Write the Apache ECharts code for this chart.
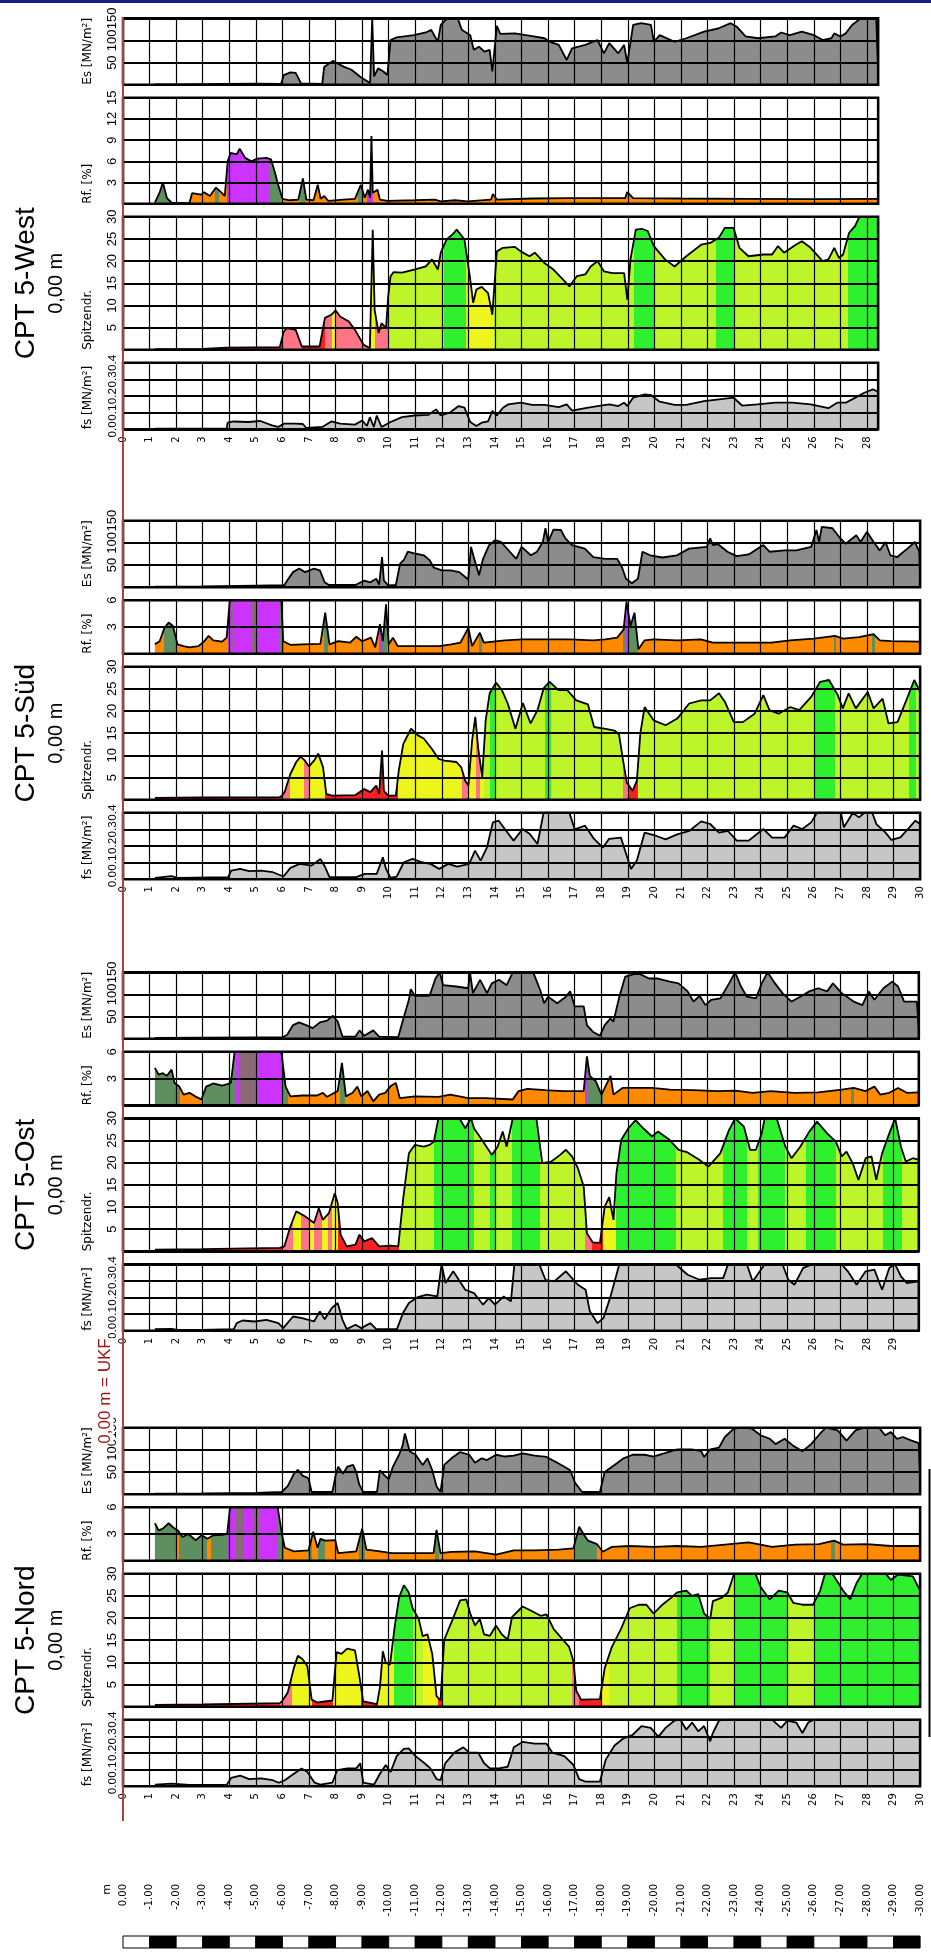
<!DOCTYPE html>
<html>
<head>
<meta charset="utf-8">
<script src="https://cdn.jsdelivr.net/npm/echarts/dist/echarts.min.js"></script>
<style>
html, body { margin: 0; padding: 0; background: #fff; }
#main { width: 931px; height: 1955px; }
</style>
</head>
<body>
<div id="main"></div>
<script>
// ---- CPT 5-West ----
var westEs = [[1.2,1],[2,1],[3,1.5],[4,2],[5,2.5],[5.95,2],[6.05,22],[6.3,28],[6.5,27],[6.7,3],[7.5,2],[7.57,40],[7.9,54],[8.3,41],[8.6,34],[8.95,17],[9.3,4],[9.38,150],[9.45,19],[9.6,37],[9.8,30],[9.95,22],[10.07,101],[10.3,107],[10.95,112],[11.4,118],[11.6,124],[11.85,97],[11.96,135],[12.2,150],[12.6,150],[12.75,124],[13.07,112],[13.2,79],[13.4,86],[13.6,75],[13.8,79],[13.9,30],[14.07,133],[14.2,115],[14.75,116],[15.4,110],[15.86,105],[16.08,97],[16.4,90],[16.7,56],[16.9,82],[17.4,90],[17.86,101],[18.1,71],[18.3,94],[18.64,71],[18.86,90],[18.98,49],[19.2,135],[19.5,139],[19.87,135],[19.98,97],[20.2,112],[20.76,97],[21.2,105],[21.87,120],[22.4,127],[22.87,139],[23.1,131],[23.43,109],[23.9,105],[24.55,109],[24.77,118],[25.1,112],[25.55,120],[26,112],[26.33,101],[26.66,105],[26.77,116],[27,109],[27.2,116],[27.44,135],[27.77,150],[28.35,150],[28.42,30]];
var westRf = [[1.2,0.15],[1.38,1.6],[1.5,3.0],[1.65,0.85],[1.83,0.15],[2.5,0.1],[2.6,1.5],[2.94,1.3],[3.05,1.65],[3.27,1.1],[3.5,2.3],[3.72,1.55],[3.83,1.1],[3.94,6.0],[4.05,7.2],[4.28,7.0],[4.39,7.8],[4.6,6.5],[4.83,6.0],[5.05,6.4],[5.4,6.5],[5.57,6.3],[5.72,4.4],[5.84,2.7],[6.0,0.7],[6.28,0.5],[6.6,0.6],[6.77,3.6],[6.9,0.6],[7.17,0.5],[7.33,2.7],[7.44,0.7],[7.57,1.1],[7.73,0.4],[8.29,0.6],[8.73,0.7],[8.95,2.7],[9.1,0.85],[9.22,2.0],[9.3,0.85],[9.35,9.6],[9.4,1.55],[9.58,2.0],[9.67,0.6],[9.96,0.4],[10.96,0.5],[11.74,0.6],[11.96,0.35],[12.5,0.5],[12.96,0.35],[13.85,0.6],[13.92,1.4],[14.07,0.6],[15.4,0.75],[16.75,0.8],[18.9,0.8],[18.98,1.65],[19.2,0.8],[21,0.75],[23.5,0.7],[26,0.65],[28.42,0.7]];
var westQc = [[1.2,0.15],[3,0.2],[3.9,0.5],[5.9,0.6],[5.95,0.75],[6.05,4.1],[6.17,4.9],[6.5,4.5],[6.73,0.75],[7.4,0.75],[7.6,7.2],[7.84,7.9],[8.0,8.9],[8.17,7.5],[8.5,6.4],[8.73,4.5],[9.06,1.1],[9.29,0.4],[9.4,27.1],[9.47,9.0],[9.62,3.8],[9.73,6.0],[9.9,4.9],[9.98,12],[10.07,16.6],[10.18,17.5],[10.5,17.4],[10.96,18.1],[11.4,18.8],[11.63,20.4],[11.85,18.1],[11.96,21.9],[12.18,24.9],[12.4,26],[12.56,27.1],[12.85,24.9],[13.07,15.8],[13.18,10.6],[13.3,13.6],[13.5,14.2],[13.74,12.8],[13.9,7.9],[14.07,22.2],[14.3,23],[14.75,23.2],[14.97,22.2],[15.3,21.1],[15.5,21.9],[15.86,19.6],[16.2,18.1],[16.5,16.2],[16.8,14.3],[17.08,16.6],[17.4,17],[17.6,18.8],[17.86,20],[18.1,17.7],[18.42,17.3],[18.86,17.3],[18.98,11.3],[19.1,20.4],[19.3,27.1],[19.53,27.3],[19.75,26.8],[19.98,23.4],[20.4,20.4],[20.76,18.8],[21.2,21.1],[21.76,23.7],[22.1,24.1],[22.43,25.3],[22.65,27.5],[22.98,27.5],[23.2,23],[23.54,21.1],[24.1,21.5],[24.43,21.5],[24.65,23.4],[24.88,21.9],[25.32,23.7],[25.55,24.5],[25.88,23],[26.33,20],[26.55,20.4],[26.77,23],[26.95,20.7],[27.1,21.5],[27.33,26.4],[27.55,27.9],[27.7,29.8],[27.8,30],[28.42,30]];
var westFs = [[1.2,0.004],[3.9,0.004],[3.94,0.04],[4.16,0.047],[4.72,0.044],[5.17,0.05],[5.61,0.024],[5.84,0.014],[6.06,0.034],[6.5,0.034],[6.77,0.032],[6.9,0.008],[7.5,0.014],[7.84,0.047],[8.17,0.034],[8.73,0.028],[9.0,0.053],[9.18,0.02],[9.29,0.073],[9.44,0.014],[9.55,0.083],[9.73,0.014],[10.07,0.044],[10.5,0.073],[10.96,0.083],[11.5,0.087],[11.78,0.12],[11.96,0.083],[12.3,0.1],[12.63,0.14],[12.85,0.13],[13.07,0.044],[13.3,0.02],[13.5,0.04],[13.74,0.048],[13.9,0.11],[14.07,0.083],[14.3,0.13],[14.5,0.15],[14.97,0.16],[15.4,0.147],[15.86,0.147],[16.4,0.133],[16.7,0.15],[16.9,0.113],[17.4,0.127],[17.86,0.14],[18.3,0.15],[18.64,0.14],[18.86,0.16],[18.98,0.14],[19.2,0.19],[19.64,0.21],[19.87,0.206],[20.2,0.166],[20.76,0.147],[21.2,0.147],[21.87,0.17],[22.43,0.18],[22.98,0.19],[23.3,0.143],[23.87,0.15],[24.55,0.16],[25.2,0.16],[25.88,0.15],[26.55,0.127],[26.88,0.16],[27.2,0.16],[27.44,0.18],[27.9,0.22],[28.22,0.24],[28.42,0.226]];
var westQcZones = [[0,'r'],[6.0,'p'],[6.75,'r'],[7.6,'p'],[7.85,'y'],[8.0,'p'],[9.35,'y'],[9.5,'p'],[10.0,'l'],[12.1,'g'],[12.9,'y'],[13.95,'l'],[19.25,'g'],[20.0,'l'],[22.3,'g'],[23.0,'l'],[27.3,'g']];
var westRfZones = [[0,'m'],[1.8,'o'],[3.45,'m'],[3.6,'o'],[3.9,'v'],[5.55,'m'],[5.95,'o'],[6.65,'m'],[6.9,'o'],[8.85,'m'],[9.05,'o'],[9.2,'v'],[9.4,'o']];

// ---- CPT 5-Süd ----
var sudEs = [[1.2,1.5],[3,2],[5,3.5],[6.07,4.5],[6.18,15],[6.4,34],[6.63,42],[6.85,34],[7.19,42],[7.41,38],[7.59,11],[7.75,5],[8.75,5],[9.08,15],[9.31,11],[9.53,19],[9.64,6],[9.75,68],[9.82,15],[9.98,4],[10.27,5],[10.43,53],[10.58,62],[10.72,80],[10.98,76],[11.32,72],[11.54,61],[11.7,44],[12.0,38],[12.33,38],[12.66,34],[12.88,23],[12.99,17],[13.1,91],[13.2,68],[13.4,27],[13.55,64],[13.78,95],[14.0,106],[14.23,102],[14.56,80],[14.8,64],[15.0,91],[15.35,72],[15.58,80],[15.8,102],[15.9,133],[16.0,102],[16.2,130],[16.48,129],[16.65,110],[16.9,95],[17.38,87],[17.7,68],[18.15,64],[18.6,64],[18.78,45],[18.93,19],[19.15,9],[19.38,19],[19.55,80],[19.84,72],[20.3,67],[20.85,72],[21.3,87],[21.97,91],[22.1,110],[22.2,95],[22.4,97],[22.75,80],[23.1,70],[23.55,74],[24.1,95],[24.33,80],[24.9,83],[25.34,83],[25.9,91],[26.1,129],[26.2,102],[26.3,136],[26.7,133],[27.0,110],[27.2,98],[27.6,117],[27.76,102],[28.0,125],[28.25,102],[28.48,83],[28.7,102],[28.88,72],[29.14,68],[29.6,91],[29.8,102],[29.97,80],[30,23]];
var sudRf = [[1.2,1.05],[1.38,1.4],[1.56,2.9],[1.72,3.5],[1.88,3.1],[2.05,1.05],[2.28,0.85],[2.5,0.7],[2.84,0.85],[3.06,1.4],[3.22,2.0],[3.4,1.5],[3.73,1.35],[3.9,1.8],[4.02,6],[5.96,6],[6.03,1.4],[6.3,1.0],[6.75,1.05],[7.43,1.1],[7.61,4.6],[7.77,1.05],[8.1,1.4],[8.55,1.25],[8.78,1.9],[9.0,1.4],[9.33,1.8],[9.49,0.7],[9.67,3.3],[9.78,1.4],[9.9,5.55],[10.0,1.05],[10.16,1.8],[10.34,0.85],[11.0,0.85],[11.9,0.85],[12.35,1.05],[12.7,1.25],[13.0,2.9],[13.14,0.85],[13.43,2.35],[13.58,1.25],[14.37,1.5],[15.04,1.6],[15.93,1.6],[16.8,1.6],[17.7,1.5],[18.15,1.6],[18.6,1.8],[18.84,2.7],[18.95,5.85],[19.1,3.1],[19.25,4.6],[19.4,0.5],[19.63,1.5],[19.96,1.6],[20.85,1.5],[21.75,1.6],[22.2,1.25],[23.3,1.25],[24.4,1.25],[25.1,1.5],[26.0,1.7],[26.8,2.0],[27.1,1.7],[27.7,1.85],[28.25,2.2],[28.48,1.5],[28.9,1.4],[30,1.35]];
var sudQc = [[1.2,0.4],[3,0.5],[5.9,0.6],[5.98,0.9],[6.08,1.7],[6.3,5.8],[6.52,8.5],[6.68,9.7],[6.85,8.8],[7.0,7.5],[7.19,8.8],[7.35,10.4],[7.53,7.3],[7.65,1.3],[7.86,0.9],[8.75,1.05],[9.08,2.4],[9.31,1.7],[9.53,3.2],[9.64,1.3],[9.75,11.1],[9.82,2.0],[9.98,0.9],[10.27,0.9],[10.38,6.6],[10.55,12.6],[10.84,16],[11.1,14.5],[11.32,13.8],[11.62,11.5],[11.88,9.2],[12.1,8.8],[12.55,8.5],[12.73,7.3],[12.88,4.3],[13.0,3.2],[13.14,13.4],[13.26,18.7],[13.37,11.5],[13.52,5.1],[13.65,17.9],[13.8,24],[14.04,26.4],[14.26,24.7],[14.48,21.7],[14.77,16],[15.05,21.8],[15.34,17.2],[15.6,20.2],[15.83,25.1],[16.05,26.6],[16.39,24.7],[16.72,24.7],[17.06,22.4],[17.5,21.5],[17.73,16.4],[18.17,16],[18.5,15.6],[18.67,14.7],[18.8,9.6],[18.96,3.9],[19.18,2.0],[19.34,4.3],[19.47,14.9],[19.63,20.9],[19.97,17.9],[20.42,16.8],[20.86,18.3],[21.31,21.7],[21.76,22.4],[22.1,22.4],[22.43,24],[22.65,22.1],[22.99,17.5],[23.33,17.5],[23.77,19.4],[24.1,23.6],[24.33,20.2],[24.67,19.4],[25.12,20.9],[25.45,20.2],[25.9,23.2],[26.24,26.6],[26.57,27],[26.9,23.6],[27.09,20.6],[27.31,24],[27.58,20.6],[28.03,24.3],[28.25,20.6],[28.59,22.8],[28.81,17.2],[29.15,17.5],[29.48,22.4],[29.78,27],[30,24.3]];
var sudFs = [[1.2,0.008],[1.83,0.018],[2.05,0.008],[3.96,0.012],[4.07,0.052],[4.41,0.062],[4.75,0.048],[5.2,0.052],[5.64,0.042],[6.04,0.016],[6.3,0.068],[6.65,0.092],[7.1,0.082],[7.43,0.122],[7.61,0.072],[7.77,0.012],[8.78,0.012],[9.1,0.032],[9.55,0.032],[9.78,0.132],[9.9,0.062],[10.07,0.008],[10.3,0.016],[10.57,0.102],[10.9,0.122],[11.24,0.102],[11.57,0.092],[11.9,0.062],[12.24,0.092],[12.58,0.076],[13.03,0.092],[13.25,0.172],[13.46,0.112],[13.7,0.192],[13.92,0.342],[14.14,0.352],[14.37,0.302],[14.7,0.232],[15.04,0.302],[15.31,0.272],[15.6,0.212],[15.83,0.4],[16.8,0.4],[17.0,0.3],[17.39,0.322],[17.73,0.242],[18.06,0.19],[18.29,0.242],[18.74,0.25],[18.9,0.17],[19.12,0.062],[19.34,0.112],[19.63,0.28],[20.08,0.26],[20.42,0.24],[20.86,0.27],[21.31,0.29],[21.76,0.348],[22.1,0.332],[22.43,0.28],[22.77,0.29],[23.1,0.232],[23.55,0.232],[24.1,0.302],[24.43,0.25],[24.9,0.25],[25.23,0.322],[25.57,0.302],[25.9,0.342],[26.12,0.4],[27.02,0.4],[27.13,0.312],[27.47,0.4],[27.7,0.372],[27.9,0.4],[28.2,0.4],[28.36,0.33],[28.7,0.28],[28.92,0.236],[29.26,0.252],[29.6,0.312],[29.82,0.352],[30,0.332]];
var sudQcZones = [[0,'r'],[6.0,'p'],[6.3,'y'],[6.8,'p'],[7.0,'y'],[7.6,'r'],[10.35,'y'],[12.75,'p'],[13.0,'y'],[13.3,'p'],[13.45,'y'],[13.6,'l'],[13.8,'g'],[14.0,'l'],[15.9,'g'],[16.1,'l'],[18.8,'p'],[19.05,'r'],[19.4,'l'],[26.0,'g'],[26.8,'l'],[29.6,'g'],[29.85,'l']];
var sudRfZones = [[0,'o'],[1.55,'m'],[2.0,'o'],[3.95,'v'],[4.05,'s'],[4.15,'v'],[4.85,'s'],[5.0,'v'],[5.9,'m'],[6.05,'o'],[7.55,'m'],[7.7,'o'],[9.65,'v'],[9.75,'m'],[9.95,'o'],[12.95,'m'],[13.05,'o'],[13.4,'m'],[13.5,'o'],[18.8,'m'],[18.9,'v'],[19.0,'m'],[19.4,'o'],[26.75,'m'],[26.85,'o'],[28.2,'m'],[28.3,'o']];

// ---- CPT 5-Ost ----
var ostEs = [[1.2,2],[3,2.5],[5,3],[6.0,3],[6.18,9],[6.4,31],[6.63,37],[6.96,29],[7.14,24],[7.41,37],[7.68,41],[7.9,52],[8.08,39],[8.26,5],[8.75,5],[8.9,19],[9.08,7],[9.42,19],[9.64,5],[10.36,4],[10.54,43],[10.76,88],[10.83,112],[10.98,97],[11.54,97],[11.76,136],[11.92,150],[12.05,121],[12.54,118],[12.99,114],[13.06,150],[13.17,103],[13.44,133],[13.7,103],[13.88,125],[14.15,133],[14.44,121],[14.67,150],[15.11,148],[15.45,148],[15.7,110],[15.85,80],[16.0,95],[16.34,80],[16.67,95],[16.83,107],[17.0,73],[17.34,73],[17.46,31],[17.68,16],[17.95,7],[18.13,31],[18.35,46],[18.46,39],[18.68,95],[18.9,140],[19.24,146],[19.46,146],[19.8,136],[20.13,136],[20.58,129],[20.91,125],[21.25,107],[21.47,84],[21.7,97],[21.92,76],[22.14,88],[22.48,91],[22.81,125],[23.04,150],[23.26,118],[23.48,95],[23.82,91],[24.04,125],[24.26,150],[24.49,129],[24.82,103],[25.16,84],[25.49,95],[25.83,107],[26.16,114],[26.5,107],[26.72,125],[27.05,103],[27.5,84],[27.83,76],[28.06,107],[28.28,88],[28.62,114],[28.95,129],[29.17,118],[29.4,84],[29.73,84],[29.88,84],[29.95,20]];
var ostRf = [[1.2,4.2],[1.34,3.45],[1.5,3.6],[1.65,3.3],[1.83,4.0],[1.94,2.5],[2.12,2.1],[2.28,1.2],[2.5,1.4],[2.72,1.0],[2.95,0.65],[3.13,2.1],[3.39,2.45],[3.73,2.2],[4.06,2.5],[4.2,6],[5.96,6],[6.12,2.1],[6.3,1.0],[6.74,1.1],[7.3,1.1],[7.52,1.4],[7.68,0.95],[8.08,1.6],[8.24,4.75],[8.39,1.0],[8.64,1.4],[8.82,2.1],[8.97,1.0],[9.2,1.6],[9.42,0.45],[9.64,1.2],[9.87,1.4],[10.09,2.2],[10.27,2.5],[10.42,0.8],[10.98,1.0],[11.87,0.95],[12.32,1.2],[12.99,0.8],[13.66,0.8],[14.67,0.65],[14.89,1.6],[15.22,1.85],[15.89,1.7],[16.56,1.6],[17.34,1.6],[17.46,5.5],[17.57,3.3],[17.79,2.7],[18.01,1.2],[18.35,3.3],[18.46,1.2],[18.8,1.95],[19.91,1.95],[20.58,1.75],[21.47,1.7],[22.37,1.6],[23.04,1.65],[23.7,1.4],[24.38,1.6],[25.27,1.4],[26.16,1.45],[27.05,1.75],[27.5,1.95],[27.95,1.6],[28.28,2.1],[28.5,1.2],[28.84,1.4],[29.17,1.95],[29.5,1.4],[29.95,1.45]];
var ostQc = [[1.2,0.4],[3,0.5],[5.9,0.75],[6.07,1.1],[6.3,5.6],[6.52,9.0],[6.85,7.9],[7.19,6.4],[7.37,9.75],[7.52,7.1],[7.75,8.6],[7.97,13.1],[8.08,10.9],[8.19,3.75],[8.42,1.1],[8.75,1.5],[8.9,3.75],[9.08,2.25],[9.37,3.0],[9.64,1.1],[10.09,1.3],[10.36,1.1],[10.54,11.6],[10.76,22.1],[10.98,24],[11.32,23.6],[11.54,24],[11.7,24.75],[11.87,30],[12.66,30],[12.88,27.75],[13.1,30],[13.21,27.75],[13.55,24.75],[13.88,21.75],[14.1,23.6],[14.29,27],[14.44,23.6],[14.67,30],[15.56,30],[15.78,19.9],[16.12,20.25],[16.45,21.75],[16.67,22.9],[16.9,21.4],[17.12,18.75],[17.34,14.6],[17.46,4.1],[17.68,2.0],[17.95,1.9],[18.13,10.1],[18.3,12.2],[18.46,7.1],[18.57,17.6],[18.75,25.1],[19.02,27.75],[19.29,29.6],[19.58,27.75],[19.91,25.9],[20.13,27],[20.58,25.1],[20.91,22.9],[21.25,22.3],[21.7,20.6],[22.03,19.1],[22.48,22.1],[22.81,27.4],[23.04,30],[23.37,28.1],[23.6,22.9],[23.82,22.9],[24.04,26.6],[24.15,30],[24.6,30],[24.93,23.6],[25.16,21],[25.49,23.6],[25.83,27],[26.12,29.25],[26.5,26.6],[26.83,24.75],[27.05,21.4],[27.23,22.5],[27.46,19.9],[27.68,16.1],[27.95,21],[28.17,21.4],[28.35,16.1],[28.57,22.1],[28.84,26.6],[29.06,30],[29.28,23.6],[29.46,20.25],[29.73,21],[29.95,20.6]];
var ostFs = [[1.2,0.01],[1.83,0.012],[2.05,0.006],[2.95,0.006],[4.17,0.01],[4.28,0.046],[4.5,0.062],[4.95,0.056],[5.4,0.066],[5.85,0.046],[6.03,0.016],[6.4,0.086],[6.74,0.076],[7.19,0.056],[7.41,0.117],[7.59,0.07],[7.86,0.137],[8.08,0.167],[8.26,0.066],[8.42,0.01],[8.75,0.036],[8.97,0.016],[9.31,0.046],[9.53,0.01],[10.31,0.01],[10.54,0.107],[10.76,0.167],[11.1,0.203],[11.43,0.217],[11.83,0.207],[11.99,0.4],[12.14,0.287],[12.43,0.358],[12.88,0.247],[13.21,0.227],[13.55,0.157],[13.77,0.197],[14.0,0.157],[14.33,0.207],[14.6,0.177],[14.73,0.4],[15.67,0.4],[15.9,0.307],[16.23,0.297],[16.67,0.358],[17.12,0.277],[17.41,0.247],[17.57,0.117],[17.86,0.046],[18.08,0.076],[18.35,0.207],[18.68,0.4],[20.8,0.4],[21.25,0.337],[21.7,0.307],[22.14,0.317],[22.59,0.317],[22.77,0.4],[23.48,0.4],[23.7,0.297],[23.97,0.358],[24.15,0.4],[24.82,0.4],[25.04,0.307],[25.27,0.277],[25.6,0.378],[25.94,0.4],[27.05,0.4],[27.28,0.358],[27.61,0.277],[27.95,0.358],[28.28,0.368],[28.57,0.247],[28.84,0.378],[29.06,0.4],[29.28,0.327],[29.5,0.287],[29.95,0.297]];
var ostQcZones = [[0,'r'],[6.0,'p'],[6.4,'y'],[6.7,'p'],[7.0,'y'],[7.2,'p'],[7.5,'y'],[7.7,'p'],[7.85,'y'],[8.1,'r'],[10.4,'l'],[11.7,'g'],[13.2,'l'],[13.8,'g'],[14.0,'l'],[14.65,'g'],[15.7,'l'],[17.4,'p'],[17.65,'r'],[18.05,'y'],[18.55,'g'],[20.8,'l'],[22.6,'g'],[23.5,'l'],[23.9,'g'],[24.9,'l'],[25.7,'g'],[26.85,'l'],[28.6,'g'],[29.3,'l']];
var ostRfZones = [[0,'m'],[2.15,'o'],[3.05,'m'],[4.2,'v'],[4.35,'s'],[4.95,'v'],[5.95,'m'],[6.2,'o'],[8.15,'m'],[8.35,'o'],[17.4,'v'],[17.5,'m'],[18.05,'o'],[27.4,'m'],[27.5,'o']];

// ---- CPT 5-Nord ----
var nordEs = [[1.2,1.5],[3,2],[5,3],[5.97,5],[6.2,18],[6.43,46],[6.58,55],[6.76,42],[6.98,36],[7.1,5],[7.88,5],[8.0,42],[8.1,62],[8.28,46],[8.44,62],[8.66,66],[8.78,50],[8.89,22],[9.04,5],[9.56,5],[9.67,54],[9.85,42],[10.0,34],[10.16,62],[10.39,89],[10.52,109],[10.61,137],[10.79,97],[11.01,89],[11.28,66],[11.46,81],[11.64,54],[11.8,18],[11.95,5],[12.09,66],[12.36,81],[12.69,95],[13.03,89],[13.25,71],[13.5,81],[13.7,77],[14.04,89],[14.37,85],[14.71,87],[15.04,92],[15.49,87],[15.94,84],[16.28,73],[16.61,62],[16.83,54],[17.01,26],[17.28,5],[17.95,5],[18.13,50],[18.5,66],[18.84,81],[19.18,89],[19.63,89],[19.97,85],[20.42,93],[20.86,101],[21.4,101],[21.76,97],[21.87,84],[22.1,101],[22.43,105],[22.65,129],[22.99,148],[23.33,150],[23.66,148],[24.0,133],[24.34,125],[24.56,113],[24.9,125],[25.23,109],[25.57,97],[25.9,113],[26.24,137],[26.46,150],[26.9,144],[27.23,121],[27.57,144],[27.9,150],[28.46,150],[28.68,133],[28.9,140],[29.13,125],[29.35,129],[29.68,121],[29.95,115],[30,30]];
var nordRf = [[1.2,4.2],[1.34,3.4],[1.5,3.6],[1.72,4.2],[1.88,3.75],[2.06,3.4],[2.24,2.65],[2.46,3.0],[2.73,2.3],[2.96,2.85],[3.18,2.45],[3.4,2.85],[3.74,2.9],[3.92,3.0],[4.03,6],[5.82,6],[5.98,3.0],[6.09,1.45],[6.43,1.05],[6.98,1.15],[7.16,3.25],[7.32,1.45],[7.43,2.45],[7.61,2.25],[7.99,2.3],[8.1,0.85],[8.78,1.05],[9.0,3.6],[9.16,1.25],[9.67,1.05],[10.12,0.85],[11.01,0.85],[11.69,0.85],[11.8,3.45],[11.95,0.85],[12.36,0.98],[13.25,1.05],[14.04,0.67],[14.71,1.15],[15.49,1.15],[16.39,1.25],[16.95,1.38],[17.17,3.8],[17.33,3.0],[17.5,2.25],[17.84,1.85],[18.06,1.0],[18.4,1.55],[19.07,1.65],[19.97,1.55],[20.86,1.65],[21.76,1.55],[22.65,1.8],[23.55,2.05],[24.43,1.55],[25.3,1.8],[26.2,1.85],[26.76,2.25],[27.1,1.8],[28.0,1.85],[28.9,1.65],[30,1.65]];
var nordQc = [[1.2,0.4],[3,0.5],[5.9,0.8],[5.98,1.2],[6.2,3.2],[6.43,8.7],[6.58,11.5],[6.76,10.7],[6.94,9.1],[7.1,1.6],[7.32,0.95],[7.88,1.4],[8.04,12.3],[8.22,11.9],[8.44,13.1],[8.73,12.7],[8.89,7.1],[9.04,1.2],[9.56,0.6],[9.67,4.4],[9.78,12.5],[9.89,9.9],[10.05,9.5],[10.23,18.3],[10.39,24.6],[10.57,27.4],[10.75,25.8],[10.9,22.2],[11.13,19.8],[11.28,15.9],[11.46,16.3],[11.64,11.9],[11.8,2.4],[11.95,1.4],[12.09,15.1],[12.36,19],[12.69,24],[12.92,24.2],[13.07,21],[13.25,18.3],[13.43,19.8],[13.59,16.3],[13.81,16],[14.04,18.3],[14.26,16.3],[14.48,15.1],[14.64,20.2],[15.04,22.6],[15.38,21.6],[15.72,20.5],[15.94,20.8],[16.21,17.5],[16.5,15.5],[16.79,13.5],[16.95,10.3],[17.06,3.6],[17.24,1.6],[17.95,1.7],[18.13,8.7],[18.4,13.5],[18.74,17.5],[19.07,22.2],[19.41,23],[19.7,23],[19.97,21],[20.3,23],[20.64,24.6],[20.86,25.8],[21.2,26.2],[21.42,25],[21.65,25.4],[21.87,21],[22.1,19.8],[22.2,23.8],[22.54,24.6],[22.77,25.8],[23.0,30],[23.8,30],[24.0,27],[24.34,24.2],[24.68,26.2],[25.0,25.8],[25.23,23.4],[25.57,23],[25.97,23],[26.24,26.2],[26.42,30],[26.7,30],[27.1,26.2],[27.37,24.2],[27.6,27.8],[27.82,30],[28.7,30],[28.9,28.6],[29.17,29.8],[29.73,29.4],[30,26.2]];
var nordFs = [[1.2,0.01],[1.83,0.015],[2.5,0.008],[3.9,0.008],[4.07,0.05],[4.41,0.064],[4.75,0.043],[5.19,0.047],[5.64,0.036],[5.86,0.021],[6.09,0.036],[6.43,0.075],[6.72,0.107],[6.94,0.085],[7.21,0.021],[7.43,0.01],[7.88,0.021],[8.06,0.096],[8.44,0.107],[8.78,0.107],[8.93,0.138],[9.04,0.021],[9.45,0.01],[9.67,0.075],[9.89,0.128],[10.07,0.085],[10.3,0.181],[10.57,0.224],[10.75,0.228],[11.01,0.181],[11.35,0.138],[11.57,0.107],[11.8,0.043],[11.95,0.036],[12.13,0.138],[12.47,0.202],[12.81,0.234],[13.03,0.202],[13.37,0.202],[13.59,0.138],[13.81,0.107],[14.15,0.107],[14.48,0.117],[14.71,0.234],[15.04,0.266],[15.49,0.256],[15.94,0.256],[16.16,0.202],[16.61,0.181],[16.95,0.128],[17.17,0.043],[17.39,0.028],[17.95,0.028],[18.17,0.16],[18.5,0.245],[18.84,0.288],[19.18,0.309],[19.52,0.362],[19.86,0.351],[20.15,0.298],[20.42,0.351],[20.75,0.394],[20.98,0.4],[21.2,0.34],[21.42,0.383],[21.65,0.33],[21.87,0.362],[22.1,0.27],[22.2,0.32],[22.43,0.394],[22.6,0.4],[24.43,0.4],[24.77,0.351],[25.0,0.394],[25.34,0.383],[25.57,0.32],[25.79,0.383],[26.0,0.4],[30,0.4]];
var nordQcZones = [[0,'r'],[5.9,'p'],[6.35,'y'],[7.1,'r'],[7.9,'y'],[8.95,'r'],[9.6,'y'],[10.2,'g'],[10.9,'l'],[11.3,'y'],[11.85,'r'],[12.0,'l'],[16.9,'p'],[17.15,'r'],[18.0,'y'],[18.3,'l'],[20.85,'g'],[22.1,'l'],[23.0,'g'],[25.0,'l'],[26.0,'g']];
var nordRfZones = [[0,'m'],[2.0,'o'],[2.1,'m'],[3.15,'o'],[3.3,'m'],[3.95,'v'],[4.25,'s'],[4.55,'v'],[4.9,'s'],[5.1,'v'],[5.85,'m'],[6.05,'o'],[6.95,'m'],[7.1,'o'],[7.35,'m'],[7.6,'o'],[8.9,'m'],[9.1,'o'],[11.75,'m'],[11.9,'o'],[17.0,'m'],[17.85,'o'],[26.65,'m'],[26.8,'o']];

var stationNames = ['CPT 5-West', 'CPT 5-Süd', 'CPT 5-Ost', 'CPT 5-Nord'];
var stationLevels = ['0,00 m', '0,00 m', '0,00 m', '0,00 m'];
var finalDepths = [28.42, 30, 29.95, 30];
var rfMaxima = [15, 6, 6, 6];
var scaleBarMeters = [0,1,2,3,4,5,6,7,8,9,10,11,12,13,14,15,16,17,18,19,20,21,22,23,24,25,26,27,28,29];

var stations = [
    {es: westEs, rf: westRf, qc: westQc, fs: westFs, rfZones: westRfZones, qcZones: westQcZones},
    {es: sudEs, rf: sudRf, qc: sudQc, fs: sudFs, rfZones: sudRfZones, qcZones: sudQcZones},
    {es: ostEs, rf: ostRf, qc: ostQc, fs: ostFs, rfZones: ostRfZones, qcZones: ostQcZones},
    {es: nordEs, rf: nordRf, qc: nordQc, fs: nordFs, rfZones: nordRfZones, qcZones: nordQcZones}
];

// colours for soil classes
var classColors = {r: '#ff1f1f', p: '#ff7585', y: '#eef51c', l: '#bdf52a', g: '#2ff02f',
                   o: '#ff8a00', m: '#5e8f5e', v: '#cc33ff', s: '#8b6a78'};

// layout (pixels)
var LEFT = 123, PX_PER_M = 26.57;
var stationTops = [18.3, 520.7, 972.3, 1427.7];
var ES_H = 66.5, RF_H = 53.5, RF_H_BIG = 106, QC_H = 133, FS_H = 66.5, GAP = 13;
var labelFont = 'DejaVu Sans';
var tickFont = 'Liberation Sans';

var grids = [], xAxes = [], yAxes = [], series = [], visualMaps = [], graphics = [];

function zonesToPieces(zones) {
    var out = [];
    for (var i = 0; i < zones.length; i++) {
        var p = {gte: zones[i][0], color: classColors[zones[i][1]]};
        p.lt = i + 1 < zones.length ? zones[i + 1][0] : 1000;
        out.push(p);
    }
    return out;
}

function hideZero(v) { return v === 0 ? '' : String(v); }

function addPanel(st, top, height, data, yMax, yInt, fmt, tickSize, fill, zones, name, showDepth) {
    var g = grids.length;
    var w = finalDepths[st] * PX_PER_M;
    grids.push({left: LEFT, top: top, width: w, height: height, show: true,
        borderColor: '#000', borderWidth: 2.5, backgroundColor: 'transparent', z: 5});
    xAxes.push({gridIndex: g, type: 'value', min: 0, max: finalDepths[st], interval: 1, z: 3,
        axisLine: {show: false}, axisTick: {show: false},
        splitLine: {show: true, lineStyle: {color: '#000', width: 1.2}},
        axisLabel: showDepth ? {show: true, rotate: 90, margin: 7, fontSize: 10, fontFamily: labelFont, color: '#000',
            showMinLabel: true, interval: 0, hideOverlap: false,
            formatter: function (v) { return Math.abs(v - Math.round(v)) < 1e-6 ? String(Math.round(v)) : ''; }} : {show: false}
    });
    yAxes.push({gridIndex: g, type: 'value', min: 0, max: yMax, interval: yInt, z: 3,
        axisLine: {show: false}, axisTick: {show: false},
        splitLine: {show: true, lineStyle: {color: '#000', width: 2}},
        axisLabel: {rotate: 90, margin: 4, fontSize: tickSize, fontFamily: tickFont, color: '#000',
            showMinLabel: true, showMaxLabel: true, interval: 0, hideOverlap: false, formatter: fmt}
    });
    var areaIndex = series.length;
    series.push({type: 'line', xAxisIndex: g, yAxisIndex: g, data: data, symbol: 'none', silent: true,
        lineStyle: {width: 0}, areaStyle: fill ? {color: fill, opacity: 1} : {opacity: 1}, z: 2});
    series.push({type: 'line', xAxisIndex: g, yAxisIndex: g, data: data, symbol: 'none', silent: true,
        lineStyle: {color: '#000', width: 1.8}, z: 4});
    if (zones) {
        visualMaps.push({type: 'piecewise', show: false, dimension: 0, seriesIndex: areaIndex,
            pieces: zonesToPieces(zones), outOfRange: {color: '#999'}});
    }
    graphics.push({type: 'text', x: 88, y: top + height, rotation: Math.PI / 2, silent: true,
        style: {text: name, fill: '#000', font: '12px "' + labelFont + '"', textAlign: 'left', textVerticalAlign: 'middle'}});
}

stations.forEach(function (s, i) {
    var t = stationTops[i];
    var rfH = rfMaxima[i] > 6 ? RF_H_BIG : RF_H;
    var tEs = t, tRf = tEs + ES_H + GAP, tQc = tRf + rfH + GAP, tFs = tQc + QC_H + GAP;
    addPanel(i, tEs, ES_H, s.es, 150, 50, hideZero, 13, '#8c8c8c', null, 'Es [MN/m²]', false);
    addPanel(i, tRf, rfH, s.rf, rfMaxima[i], 3, hideZero, 13, null, s.rfZones, 'Rf. [%]', false);
    addPanel(i, tQc, QC_H, s.qc, 30, 5, hideZero, 13, null, s.qcZones, 'Spitzendr.', false);
    addPanel(i, tFs, FS_H, s.fs, 0.4, 0.1, function (v) { return v.toFixed(1); }, 11.7, '#c6c6c6', null, 'fs [MN/m²]', true);
    var mid = tQc + QC_H / 2;
    graphics.push({type: 'text', x: 26, y: mid, rotation: Math.PI / 2, silent: true,
        style: {text: stationNames[i], fill: '#000', font: '28px "Liberation Sans", Arial', textAlign: 'center', textVerticalAlign: 'middle'}});
    graphics.push({type: 'text', x: 56, y: mid, rotation: Math.PI / 2, silent: true,
        style: {text: stationLevels[i], fill: '#000', font: '20px "Liberation Sans", Arial', textAlign: 'center', textVerticalAlign: 'middle'}});
});

// depth scale below last profile
var gDepth = grids.length;
grids.push({left: LEFT, top: 1866, width: 30 * PX_PER_M, height: 10, show: false});
xAxes.push({gridIndex: gDepth, type: 'value', min: 0, max: 30, interval: 1,
    axisLine: {show: false}, axisTick: {show: false}, splitLine: {show: false},
    axisLabel: {rotate: 90, margin: 8, fontSize: 10, fontFamily: labelFont, color: '#000',
        showMinLabel: true, showMaxLabel: true, interval: 0, hideOverlap: false,
        formatter: function (v) { return v === 0 ? '0.00' : '-' + v.toFixed(2); }}});
yAxes.push({gridIndex: gDepth, type: 'value', show: false});

var gBar = grids.length;
grids.push({left: LEFT, top: 1936, width: 30 * PX_PER_M, height: 12, show: false});
xAxes.push({gridIndex: gBar, type: 'value', min: 0, max: 30, show: false});
yAxes.push({gridIndex: gBar, type: 'value', min: 0, max: 1, show: false});
series.push({type: 'custom', xAxisIndex: gBar, yAxisIndex: gBar, silent: true,
    data: scaleBarMeters.map(function (m) { return [m]; }),
    renderItem: function (params, api) {
        var m = api.value(0);
        var p0 = api.coord([m, 1]), p1 = api.coord([m + 1, 0]);
        return {type: 'rect', shape: {x: p0[0], y: p0[1], width: p1[0] - p0[0], height: p1[1] - p0[1]},
            style: {fill: m % 2 ? '#000' : '#fff', stroke: '#000', lineWidth: 1}};
    }});

// decorations
graphics.push({type: 'rect', shape: {x: 0, y: 0, width: 931, height: 3}, style: {fill: '#1c1c8c'}, silent: true});
graphics.push({type: 'line', shape: {x1: LEFT, y1: 17, x2: LEFT, y2: 1821}, style: {stroke: '#a8443f', lineWidth: 2}, z: 50, silent: true});
graphics.push({type: 'line', shape: {x1: 929.5, y1: 1469, x2: 929.5, y2: 1737}, style: {stroke: '#000', lineWidth: 2}, silent: true});
graphics.push({type: 'text', x: 105, y: 1391, rotation: Math.PI / 2, z: 60, silent: true,
    style: {text: '0,00 m = UKF', fill: '#a01414', font: '17px "Liberation Sans", Arial', textAlign: 'center', textVerticalAlign: 'middle',
        backgroundColor: '#fff'}});
graphics.push({type: 'text', x: 107, y: 1884, rotation: Math.PI / 2, silent: true,
    style: {text: 'm', fill: '#000', font: '11px "' + labelFont + '"', textAlign: 'right', textVerticalAlign: 'middle'}});

var chart = echarts.init(document.getElementById('main'));
chart.setOption({
    animation: false,
    backgroundColor: '#fff',
    grid: grids,
    xAxis: xAxes,
    yAxis: yAxes,
    visualMap: visualMaps,
    series: series,
    graphic: graphics
});
</script>
</body>
</html>
